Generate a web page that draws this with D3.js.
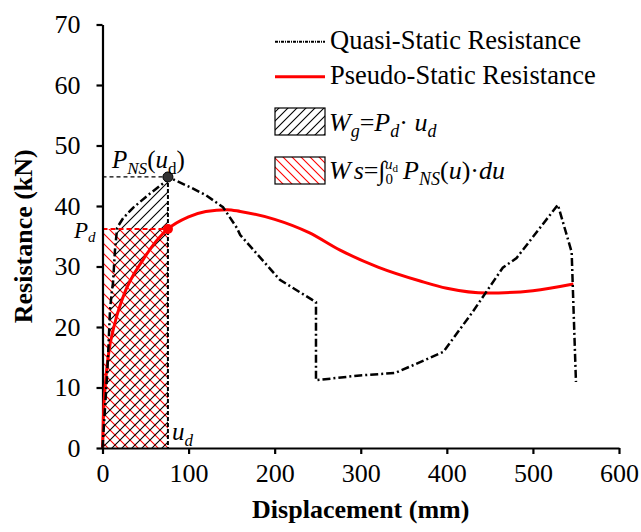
<!DOCTYPE html>
<html><head><meta charset="utf-8">
<script src="https://cdn.jsdelivr.net/npm/d3@7"></script>
<style>
body{margin:0;background:#fff}
svg{display:block}
text{font-family:"Liberation Serif","Times New Roman",serif;}
</style>
</head><body>
<svg id="c" width="641" height="532"></svg>
<script>
// ---------- data ----------
const xTicks = [0, 100, 200, 300, 400, 500, 600];
const yTicks = [0, 10, 20, 30, 40, 50, 60, 70];
const quasiX = [0, 5.2, 6.4, 8.7, 11, 12.2, 14.5, 17, 24, 35.5, 53, 72.6, 76, 102, 120, 140, 156, 160, 206, 248, 248, 299, 340, 369, 396, 430, 465, 481, 529, 545, 550];
const quasiY = [0, 11.7, 15, 22.8, 26.1, 27.3, 32.7, 36.4, 38, 39.7, 41.8, 44, 44.8, 43.1, 41.8, 39.8, 36.4, 35.2, 27.8, 24.1, 11.2, 12.0, 12.4, 14.2, 15.9, 22.5, 29.8, 31.4, 40.2, 32.4, 10.9];
const pseudoX = [0, 1, 3, 6.5, 14.5, 24, 47, 76, 100, 120, 145, 160, 200, 240, 276, 320, 369, 400, 447, 500, 547];
const pseudoY = [0, 5, 10, 15, 20.7, 25, 31.1, 36.2, 38.2, 39.1, 39.4, 39.1, 37.8, 35.6, 32.7, 29.9, 27.6, 26.4, 25.6, 26.0, 27.1];
const ud = 76, PNS = 44.8, Pd = 36.2;
const seriesNames = ["Quasi-Static Resistance", "Pseudo-Static Resistance"];
const xTitle = "Displacement (mm)", yTitle = "Resistance (kN)";

// ---------- setup ----------
const svg = d3.select("#c");
const x = d3.scaleLinear().domain([0, 600]).range([102.5, 619]);
const y = d3.scaleLinear().domain([0, 70]).range([448, 24.5]);
const FONT = '"Liberation Serif","Times New Roman",serif';

const defs = svg.append("defs");
function hatch(id, color, dir, sp) {
  const p = defs.append("pattern").attr("id", id).attr("patternUnits", "userSpaceOnUse")
    .attr("width", sp).attr("height", sp);
  if (dir > 0) {
    p.append("path").attr("d", `M0,${sp} L${sp},0 M${-sp/2},${sp/2} L${sp/2},${-sp/2} M${sp/2},${sp*1.5} L${sp*1.5},${sp/2}`)
      .attr("stroke", color).attr("stroke-width", 1.1);
  } else {
    p.append("path").attr("d", `M0,0 L${sp},${sp} M${-sp/2},${sp/2} L${sp/2},${sp*1.5} M${sp/2},${-sp/2} L${sp*1.5},${sp/2}`)
      .attr("stroke", color).attr("stroke-width", 1.1);
  }
}
hatch("hb", "#000", 1, 10);
hatch("hr", "#f00", -1, 10);
hatch("hbL", "#000", 1, 9);
hatch("hrL", "#f00", -1, 9);

const quasi = quasiX.map((d, i) => [d, quasiY[i]]);
const pseudo = pseudoX.map((d, i) => [d, pseudoY[i]]);

// ---------- hatched areas ----------
svg.append("rect").attr("x", x(0)).attr("y", y(Pd)).attr("width", x(ud) - x(0)).attr("height", y(0) - y(Pd))
  .attr("fill", "url(#hr)");
const under = [[0, 0]].concat(quasi.filter(d => d[0] <= ud)).concat([[ud, 0]]);
svg.append("path").attr("d", d3.line().x(d => x(d[0])).y(d => y(d[1]))(under) + "Z")
  .attr("fill", "url(#hb)");

// guide lines
svg.append("line").attr("x1", x(0)).attr("x2", x(ud)).attr("y1", y(PNS)).attr("y2", y(PNS))
  .attr("stroke", "#000").attr("stroke-width", 1.2).attr("stroke-dasharray", "4,3");
svg.append("line").attr("x1", x(0)).attr("x2", x(ud)).attr("y1", y(Pd)).attr("y2", y(Pd))
  .attr("stroke", "#f00").attr("stroke-width", 2).attr("stroke-dasharray", "5,3");
svg.append("line").attr("x1", x(ud)).attr("x2", x(ud)).attr("y1", y(PNS)).attr("y2", y(0))
  .attr("stroke", "#000").attr("stroke-width", 2).attr("stroke-dasharray", "4,2");

// ---------- axes ----------
const gx = svg.append("g").attr("transform", `translate(0,${y(0)})`)
  .call(d3.axisBottom(x).tickValues(xTicks).tickSize(6).tickSizeOuter(0).tickPadding(10).tickFormat(d3.format("d")));
const gy = svg.append("g").attr("transform", `translate(${x(0)},0)`)
  .call(d3.axisLeft(y).tickValues(yTicks).tickSize(6).tickSizeOuter(0).tickPadding(16).tickFormat(d3.format("d")));
[gx, gy].forEach(g => {
  g.attr("font-family", FONT).attr("font-size", 26);
  g.select(".domain").attr("stroke-width", 2.2);
  g.selectAll(".tick line").attr("stroke-width", 2.2);
  g.selectAll(".tick text").attr("fill", "#000");
});

svg.append("text").attr("x", (x(0) + x(600)) / 2).attr("y", 518).attr("text-anchor", "middle")
  .attr("font-size", 26).attr("font-weight", "bold").text(xTitle);
svg.append("text").attr("transform", `translate(32,${(y(0) + y(70)) / 2}) rotate(-90)`).attr("text-anchor", "middle")
  .attr("font-size", 26).attr("font-weight", "bold").text(yTitle);

// ---------- series ----------
svg.append("path").datum(pseudo)
  .attr("d", d3.line().x(d => x(d[0])).y(d => y(d[1])).curve(d3.curveMonotoneX))
  .attr("fill", "none").attr("stroke", "#f00").attr("stroke-width", 3);
svg.append("path").datum(quasi)
  .attr("d", d3.line().x(d => x(d[0])).y(d => y(d[1])))
  .attr("fill", "none").attr("stroke", "#000").attr("stroke-width", 2.5).attr("stroke-dasharray", "8,3,2,3");

svg.append("circle").attr("cx", x(ud)).attr("cy", y(PNS)).attr("r", 5).attr("fill", "#333").attr("stroke", "#000");
svg.append("circle").attr("cx", x(ud)).attr("cy", y(Pd)).attr("r", 5).attr("fill", "#f00");

// ---------- rich text helper ----------
function rich(xp, yp, size, parts) {
  const t = svg.append("text").attr("x", xp).attr("y", yp).attr("font-size", size);
  parts.forEach(p => {
    const s = t.append("tspan").text(p.t);
    if (p.i) s.attr("font-style", "italic");
    if (p.s) s.attr("font-size", p.s);
    if (p.dy) s.attr("dy", p.dy);
    if (p.dx) s.attr("dx", p.dx);
  });
  return t;
}

// annotations
rich(112, 168, 25, [{t: "P", i: 1}, {t: "NS", i: 1, s: 17, dy: 6}, {t: "(", dy: -6}, {t: "u", i: 1}, {t: "d", s: 17, dy: 6}, {t: ")", dy: -6}]);
rich(74, 238, 23, [{t: "P", i: 1}, {t: "d", i: 1, s: 15, dy: 4}]);
rich(172, 440, 25, [{t: "u", i: 1}, {t: "d", i: 1, s: 17, dy: 6}]);

// ---------- legend ----------
svg.append("line").attr("x1", 275).attr("x2", 325).attr("y1", 41.7).attr("y2", 41.7)
  .attr("stroke", "#000").attr("stroke-width", 2).attr("stroke-dasharray", "3,1,1,1");
svg.append("line").attr("x1", 275).attr("x2", 325).attr("y1", 76.7).attr("y2", 76.7)
  .attr("stroke", "#f00").attr("stroke-width", 3);
svg.append("text").attr("x", 330).attr("y", 49).attr("font-size", 26.5).text(seriesNames[0]);
svg.append("text").attr("x", 330).attr("y", 84).attr("font-size", 26.5).text(seriesNames[1]);

svg.append("rect").attr("x", 275).attr("y", 108).attr("width", 50).attr("height", 27)
  .attr("fill", "url(#hbL)").attr("stroke", "#000").attr("stroke-width", 1.2);
svg.append("rect").attr("x", 275).attr("y", 157).attr("width", 50).attr("height", 27)
  .attr("fill", "url(#hrL)").attr("stroke", "#000").attr("stroke-width", 1.2);

rich(329, 131, 26, [{t: "W", i: 1}, {t: "g", i: 1, s: 18, dy: 6}, {t: "=", dy: -6}, {t: "P", i: 1}, {t: "d", i: 1, s: 18, dy: 6},
  {t: "·", dy: -6}, {t: " u", i: 1}, {t: "d", i: 1, s: 18, dy: 6}]);
rich(329, 179, 26, [{t: "W", i: 1}, {t: "s", i: 1, dx: 3}, {t: "="}, {t: "∫"}, {t: "0", s: 15, dy: 5},
  {t: "u", i: 1, s: 15, dx: -8, dy: -15}, {t: "d", s: 11, dy: 3}, {t: "P", i: 1, dx: 5, dy: 7}, {t: "NS", i: 1, s: 18, dy: 6},
  {t: "(", dy: -6}, {t: "u", i: 1}, {t: ")·"}, {t: "du", i: 1}]);
</script>
</body></html>
